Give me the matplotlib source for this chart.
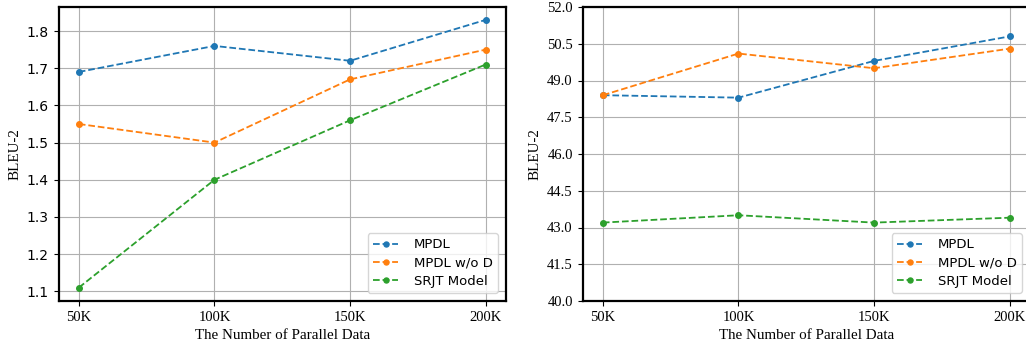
import matplotlib
matplotlib.use("Agg")
import matplotlib.pyplot as plt

x_labels = ["50K", "100K", "150K", "200K"]
series_names = ["MPDL", "MPDL w/o D", "SRJT Model"]

left_mpdl = [1.69, 1.76, 1.72, 1.83]
left_wod = [1.55, 1.50, 1.67, 1.75]
left_srjt = [1.11, 1.40, 1.56, 1.71]

right_mpdl = [48.4, 48.3, 49.8, 50.8]
right_wod = [48.4, 50.1, 49.5, 50.3]
right_srjt = [43.2, 43.5, 43.2, 43.4]

left_yticks = [1.1, 1.2, 1.3, 1.4, 1.5, 1.6, 1.7, 1.8]
right_yticks = [40.0, 41.5, 43.0, 44.5, 46.0, 47.5, 49.0, 50.5, 52.0]

W, H = 1026, 345
fig = plt.figure(figsize=(W / 100, H / 100), dpi=100)
ax1 = fig.add_axes([58.5 / W, 44 / H, 447.5 / W, 294.5 / H])
ax2 = fig.add_axes([582.5 / W, 44 / H, 447.5 / W, 294 / H])

serif = "Liberation Serif"
colors = ["#1f77b4", "#ff7f0e", "#2ca02c"]
xs = list(range(len(x_labels)))

for ax, data in [(ax1, [left_mpdl, left_wod, left_srjt]),
                 (ax2, [right_mpdl, right_wod, right_srjt])]:
    for vals, name, c in zip(data, series_names, colors):
        ax.plot(xs, vals, linestyle="--", marker="o", markersize=4,
                color=c, label=name, linewidth=1.3)
    ax.set_xticks(xs)
    ax.set_xticklabels(x_labels, fontfamily=serif, fontsize=10.5)
    ax.grid(True, color="#b0b0b0", linewidth=0.8)
    ax.set_axisbelow(True)
    ax.set_xlabel("The Number of Parallel Data", fontfamily=serif, fontsize=10.8)
    ax.set_ylabel("BLEU-2", fontfamily=serif, fontsize=10.8)
    for sp in ax.spines.values():
        sp.set_linewidth(1.6)
        sp.set_color("black")
    ax.legend(loc="lower right", fontsize=9.5, handlelength=1.9,
              handletextpad=1.2, labelspacing=0.4, markerscale=0.9,
              borderaxespad=0.6)

ax1.set_yticks(left_yticks)
ax1.set_yticklabels([f"{v:.1f}" for v in left_yticks], fontsize=10)
ax2.set_ylim(40, 52)
ax2.set_yticks(right_yticks)
ax2.set_yticklabels([f"{v:.1f}" for v in right_yticks], fontfamily=serif, fontsize=10.5)

fig.savefig("out.png", dpi=100)
